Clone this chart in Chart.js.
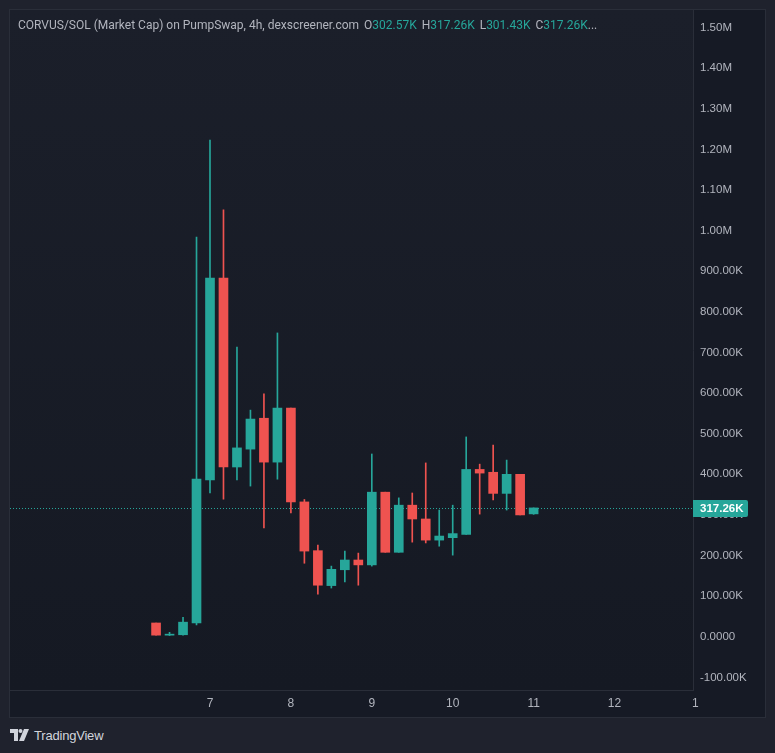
<!DOCTYPE html>
<html>
<head>
<meta charset="utf-8">
<script src="https://cdn.jsdelivr.net/npm/chart.js@4.4.1/dist/chart.umd.min.js"></script>
<style>
  html, body { margin: 0; padding: 0; }
  body { width: 775px; height: 753px; background: #1f222d; position: relative; overflow: hidden;
         font-family: "Liberation Sans", Arial, sans-serif; }
  #panel { position: absolute; left: 9px; top: 9px; width: 757px; height: 709px; box-sizing: border-box;
           border: 1px solid #2a2e39; background: #161a25; }
  #wrap { position: absolute; left: 0; top: 0; width: 755px; height: 707px; }
  #legend { position: absolute; left: 18px; top: 17px; font-size: 12px; color: #b2b5be; white-space: nowrap;
            line-height: 16px; font-family: Roboto, "Liberation Sans", sans-serif; }
  #legend .v { color: #26a69a; }
  #legend .k { margin-left: 2px; }
  #footer { position: absolute; left: 10px; top: 726px; height: 18px; display: flex; align-items: center;
            color: #d1d4dc; font-size: 13px; letter-spacing: -0.2px; font-family: "Liberation Sans", sans-serif; }
  #footer svg { margin-right: 4px; }
</style>
</head>
<body>
<div id="panel">
  <div id="wrap"><canvas id="tvChart"></canvas></div>
</div>
<div id="legend">CORVUS/SOL (Market Cap) on PumpSwap, 4h, dexscreener.com <span class="k">O</span><span class="v">302.57K</span> <span class="k">H</span><span class="v">317.26K</span> <span class="k">L</span><span class="v">301.43K</span> <span class="k">C</span><span class="v">317.26K</span>...</div>
<div id="footer">
  <svg width="20" height="12" viewBox="0 0 20 12">
    <path d="M0 0 H8 V12 H4 V4 H0 Z" fill="#d1d4dc"/>
    <circle cx="10.5" cy="2" r="2" fill="#d1d4dc"/>
    <path d="M14 0 H19 L14 12 H9 Z" fill="#d1d4dc"/>
  </svg>
  <span>TradingView</span>
</div>
<script>
// 4h candles, first one at day 6 08:00 (x is in days)
const firstCandle = 6 + 8 / 24;
const candleStep = 4 / 24;

const opens  = [34000, 4000, 5000, 34000, 386000, 883000, 418000, 462000, 538000, 430000, 563000, 332000, 212000, 126000, 165000, 189000, 177000, 356000, 208000, 324000, 290000, 238000, 244000, 252000, 412000, 405000, 353000, 400000, 302570];
const highs  = [34000, 11000, 48000, 984000, 1223000, 1051000, 713000, 558000, 598000, 748000, 563000, 338000, 226000, 174000, 211000, 206000, 450000, 356000, 342000, 354000, 428000, 312000, 324000, 492000, 425000, 472000, 435000, 400000, 317260];
const lows   = [4000, 3000, 4000, 29000, 354000, 339000, 386000, 371000, 268000, 388000, 305000, 181000, 105000, 120000, 135000, 127000, 174000, 208000, 208000, 233000, 231000, 223000, 201000, 252000, 302000, 337000, 312000, 300000, 301430];
const closes = [4000, 5000, 36000, 388000, 883000, 418000, 465000, 536000, 430000, 563000, 332000, 211000, 127000, 166000, 189000, 177000, 356000, 208000, 324000, 290000, 238000, 248000, 254000, 412000, 403000, 353000, 400000, 300000, 317260];

const dayTicks = [7, 8, 9, 10, 11, 12, 13];
const priceTicks = [-100000, 0, 100000, 200000, 300000, 400000, 500000, 600000, 700000, 800000, 900000,
                    1000000, 1100000, 1200000, 1300000, 1400000, 1500000];
const lastPrice = 317260;

const upColor = '#26a69a';
const downColor = '#ef5350';

const xs = opens.map((o, i) => firstCandle + i * candleStep);
const colors = opens.map((o, i) => closes[i] >= o ? upColor : downColor);

function fmtPrice(v) {
    if (v === 0) return '0.0000';
    if (Math.abs(v) >= 1000000) return (v / 1000000).toFixed(2) + 'M';
    return (v / 1000).toFixed(2) + 'K';
}

const bgPlugin = {
    id: 'tvBackground',
    beforeDraw(chart) {
        const { ctx, chartArea: a } = chart;
        const g = ctx.createLinearGradient(0, a.top, 0, a.bottom);
        g.addColorStop(0, '#1b1f2a');
        g.addColorStop(1, '#151923');
        ctx.save();
        ctx.fillStyle = g;
        ctx.fillRect(a.left, a.top, a.right - a.left, a.bottom - a.top);
        ctx.restore();
    },
    beforeDatasetsDraw(chart) {
        // dotted last price line
        const { ctx, chartArea: a, scales } = chart;
        const y = Math.round(scales.y.getPixelForValue(lastPrice)) + 0.5;
        ctx.save();
        ctx.strokeStyle = upColor;
        ctx.lineWidth = 1;
        ctx.setLineDash([1, 2]);
        ctx.beginPath();
        ctx.moveTo(a.left, y);
        ctx.lineTo(a.right, y);
        ctx.stroke();
        ctx.restore();
    },
    afterDraw(chart) {
        // last price label on the price axis
        const { ctx, scales } = chart;
        const ys = scales.y;
        const y = ys.getPixelForValue(lastPrice);
        ctx.save();
        ctx.fillStyle = upColor;
        ctx.beginPath();
        ctx.roundRect(ys.left, Math.round(y) - 8, 55, 17, [0, 2, 2, 0]);
        ctx.fill();
        ctx.fillStyle = '#ffffff';
        ctx.font = 'bold 11.5px "Liberation Sans", Arial, sans-serif';
        ctx.textBaseline = 'middle';
        ctx.fillText(fmtPrice(lastPrice), ys.left + 7, Math.round(y) + 0.5);
        ctx.restore();
    }
};

const ctx = document.getElementById('tvChart').getContext('2d');
const tvChart = new Chart(ctx, {
    type: 'bar',
    data: {
        datasets: [{
            label: 'body',
            data: xs.map((x, i) => ({ x: x, y: [opens[i], closes[i]] })),
            backgroundColor: colors,
            barThickness: 9,
            minBarLength: 1,
            grouped: false,
            order: 1
        }, {
            label: 'wick',
            data: xs.map((x, i) => ({ x: x, y: [lows[i], highs[i]] })),
            backgroundColor: colors,
            barThickness: 1,
            grouped: false,
            order: 2
        }]
    },
    plugins: [bgPlugin],
    options: {
        responsive: true,
        maintainAspectRatio: false,
        animation: false,
        layout: { padding: 0 },
        plugins: { legend: { display: false }, tooltip: { enabled: false } },
        scales: {
            x: {
                type: 'linear',
                min: 4.528,
                max: 12.97,
                offset: false,
                grid: { display: false, drawTicks: false },
                border: { display: true, color: '#2a2e39' },
                afterBuildTicks: s => { s.ticks = dayTicks.map(v => ({ value: v })); },
                afterFit: s => { s.height = 27; s.paddingLeft = 0; s.paddingRight = 0; },
                ticks: {
                    autoSkip: false,
                    maxRotation: 0,
                    padding: 6,
                    color: '#b2b5be',
                    font: { family: '"Liberation Sans", Arial, sans-serif', size: 12 },
                    callback: v => (v === 13 ? '1' : String(v))
                }
            },
            y: {
                position: 'right',
                min: -131000,
                max: 1543000,
                grid: { display: false, drawTicks: false },
                border: { display: true, color: '#2a2e39' },
                afterBuildTicks: s => { s.ticks = priceTicks.map(v => ({ value: v })); },
                afterFit: s => { s.width = 72; s.paddingTop = 0; s.paddingBottom = 0; },
                ticks: {
                    padding: 7,
                    crossAlign: 'near',
                    color: '#b2b5be',
                    font: { family: '"Liberation Sans", Arial, sans-serif', size: 11.5 },
                    callback: v => fmtPrice(v)
                }
            }
        }
    }
});
</script>
</body>
</html>
